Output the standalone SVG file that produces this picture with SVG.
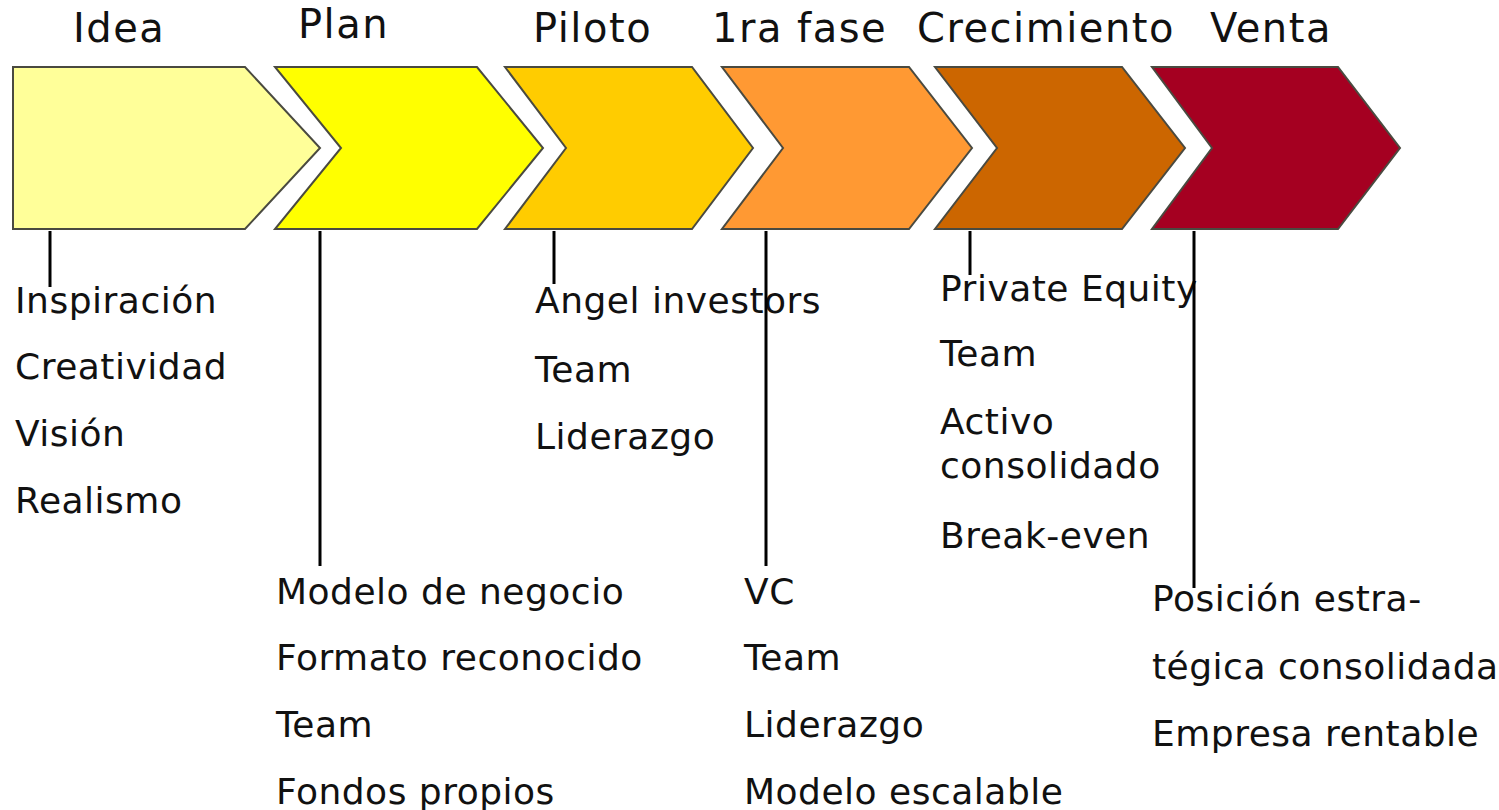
<svg xmlns="http://www.w3.org/2000/svg" width="1499" height="810" viewBox="0 0 1499 810">
<style>
.chev{stroke:#4a4a40;stroke-width:2;stroke-linejoin:miter}
.title{font-family:"DejaVu Sans",Verdana,sans-serif;font-size:40px;fill:#111;letter-spacing:1.5px}
.item{font-family:"DejaVu Sans",Verdana,sans-serif;font-size:36px;fill:#111;letter-spacing:0.5px}
.conn line{stroke:#000;stroke-width:3}
</style>
<rect width="1499" height="810" fill="#fff"/>
<g id="idea">
<polygon class="chev" fill="#FFFF99" points="13,67 245,67 320,148 245,229 13,229"/>
<text class="title" x="73" y="42">Idea</text>
<text class="item" x="15" y="313">Inspiración</text>
<text class="item" x="15" y="379">Creatividad</text>
<text class="item" x="15" y="446">Visión</text>
<text class="item" x="15" y="513">Realismo</text>
</g>
<g id="plan">
<polygon class="chev" fill="#FFFF00" points="275,67 477,67 543,148 477,229 275,229 341,148"/>
<text class="title" x="298" y="38">Plan</text>
<text class="item" x="276" y="604">Modelo de negocio</text>
<text class="item" x="276" y="670">Formato reconocido</text>
<text class="item" x="276" y="737">Team</text>
<text class="item" x="276" y="804">Fondos propios</text>
</g>
<g id="piloto">
<polygon class="chev" fill="#FFCC00" points="505,67 692,67 753,148 692,229 505,229 566,148"/>
<text class="title" x="533" y="42">Piloto</text>
<text class="item" x="535" y="313">Angel investors</text>
<text class="item" x="535" y="382">Team</text>
<text class="item" x="535" y="449">Liderazgo</text>
</g>
<g id="fase1">
<polygon class="chev" fill="#FF9933" points="722,67 909,67 972,148 909,229 722,229 783,148"/>
<text class="title" x="712" y="42">1ra fase</text>
<text class="item" x="744" y="604">VC</text>
<text class="item" x="744" y="670">Team</text>
<text class="item" x="744" y="737">Liderazgo</text>
<text class="item" x="744" y="804">Modelo escalable</text>
</g>
<g id="crecimiento">
<polygon class="chev" fill="#CC6600" points="935,67 1122,67 1185,148 1122,229 935,229 997,148"/>
<text class="title" x="917" y="42">Crecimiento</text>
<text class="item" x="940" y="301">Private Equity</text>
<text class="item" x="940" y="366">Team</text>
<text class="item" x="940" y="434">Activo</text>
<text class="item" x="940" y="478">consolidado</text>
<text class="item" x="940" y="548">Break-even</text>
</g>
<g id="venta">
<polygon class="chev" fill="#A50021" points="1152,67 1338,67 1400,148 1338,229 1152,229 1212,148"/>
<text class="title" x="1210" y="42">Venta</text>
<text class="item" x="1152" y="611">Posición estra-</text>
<text class="item" x="1152" y="679">tégica consolidada</text>
<text class="item" x="1152" y="746">Empresa rentable</text>
</g>
<g id="connectors" class="conn">
<line x1="50" y1="231" x2="50" y2="287"/>
<line x1="320" y1="231" x2="320" y2="566"/>
<line x1="554" y1="231" x2="554" y2="284"/>
<line x1="766" y1="231" x2="766" y2="566"/>
<line x1="970" y1="231" x2="970" y2="275"/>
<line x1="1194" y1="231" x2="1194" y2="588"/>
</g>
</svg>
